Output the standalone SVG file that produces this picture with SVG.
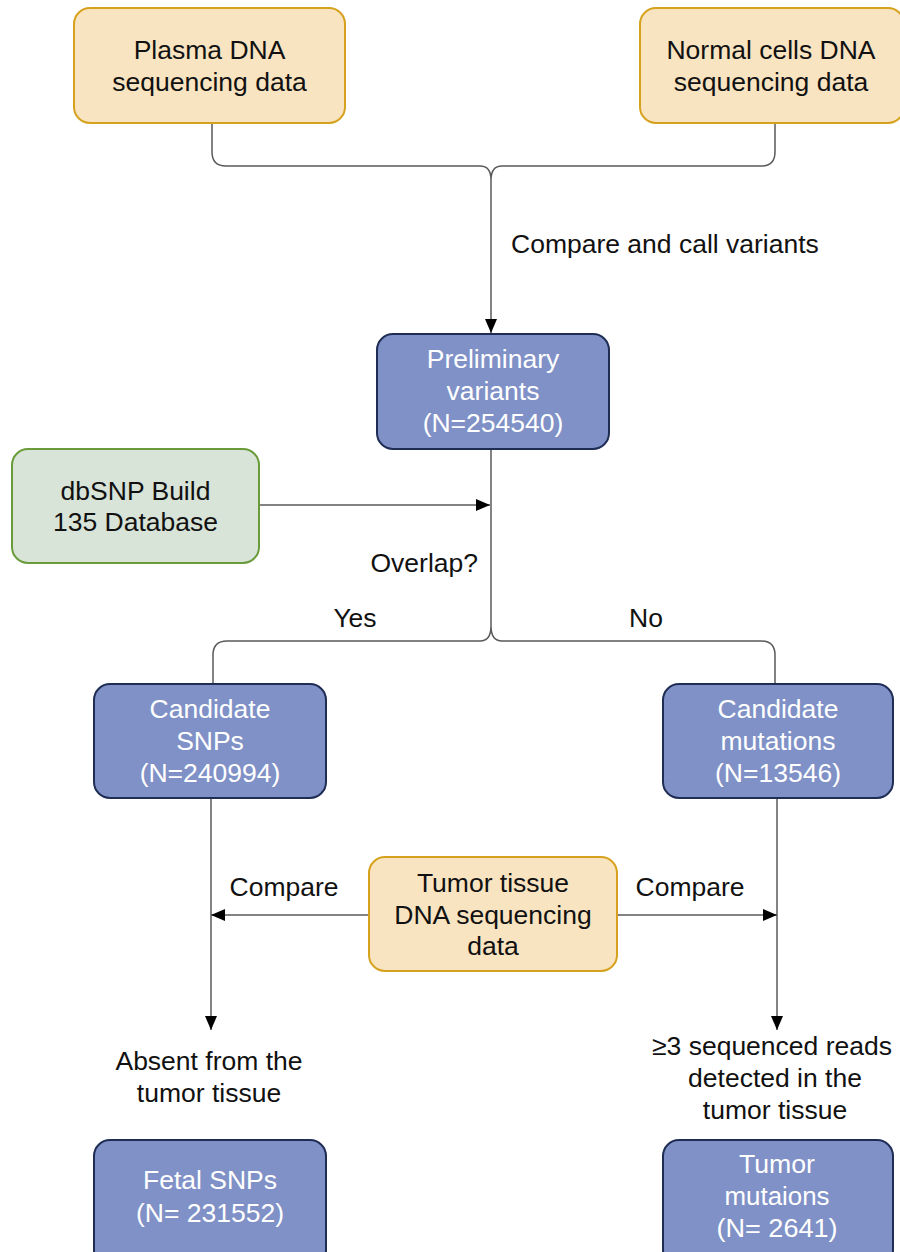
<svg xmlns="http://www.w3.org/2000/svg" width="900" height="1252" viewBox="0 0 900 1252">
<defs>
<style>
text{font-family:"Liberation Sans",Arial,sans-serif;font-size:26.5px;fill:#111;text-anchor:middle}
.wt{fill:#fff}
.org{fill:#f9e4c1;stroke:#d6a21e;stroke-width:2}
.blu{fill:#7f91c6;stroke:#1f2d55;stroke-width:2}
.grn{fill:#d8e4d8;stroke:#6a9b3a;stroke-width:2}
.ln{fill:none;stroke:#5a5a5a;stroke-width:1.5}
</style>
<marker id="ah" markerUnits="userSpaceOnUse" markerWidth="16" markerHeight="14" refX="14" refY="6" orient="auto">
<path d="M0,0 L14,6 L0,12 z" fill="#000"/>
</marker>
</defs>
<rect width="900" height="1252" fill="#fff"/>
<g id="connectors">
<path class="ln" d="M212,124 L212,152 Q212,166 226,166 L480,166 Q491,166 491,180 Q491,166 502,166 L761,166 Q775,166 775,152 L775,124"/>
<path class="ln" d="M491,180 L491,333" marker-end="url(#ah)"/>
<path class="ln" d="M491,449 L491,626"/>
<path class="ln" d="M213,684 L213,655 Q213,641 227,641 L480,641 Q491,641 491,626 Q491,641 502,641 L761,641 Q775,641 775,655 L775,684"/>
<path class="ln" d="M259,505 L490,505" marker-end="url(#ah)"/>
<path class="ln" d="M211,798 L211,1030" marker-end="url(#ah)"/>
<path class="ln" d="M777,798 L777,1030" marker-end="url(#ah)"/>
<path class="ln" d="M369,915 L211,915" marker-end="url(#ah)"/>
<path class="ln" d="M617,915 L777,915" marker-end="url(#ah)"/>
</g>
<g id="labels">
<text x="511" y="253" style="text-anchor:start">Compare and call variants</text>
<text x="478" y="572" style="text-anchor:end">Overlap?</text>
<text x="355" y="627">Yes</text>
<text x="646" y="627">No</text>
<text x="284" y="896">Compare</text>
<text x="690" y="896">Compare</text>
<text x="209" y="1070">Absent from the</text>
<text x="209" y="1102">tumor tissue</text>
<text x="772" y="1055">≥3 sequenced reads</text>
<text x="775" y="1087">detected in the</text>
<text x="775" y="1119">tumor tissue</text>
</g>
<g id="plasma">
<rect class="org" x="74" y="8" width="271" height="115" rx="16"/>
<text x="209.5" y="59">Plasma DNA</text>
<text x="209.5" y="91">sequencing data</text>
</g>
<g id="normal">
<rect class="org" x="640" y="8" width="264" height="115" rx="16"/>
<text x="771" y="59">Normal cells DNA</text>
<text x="771" y="91">sequencing data</text>
</g>
<g id="preliminary">
<rect class="blu" x="377" y="334" width="232" height="115" rx="16"/>
<text class="wt" x="493" y="368">Preliminary</text>
<text class="wt" x="493" y="400">variants</text>
<text class="wt" x="493" y="432">(N=254540)</text>
</g>
<g id="dbsnp">
<rect class="grn" x="12" y="449" width="247" height="114" rx="16"/>
<text x="135.5" y="500">dbSNP Build</text>
<text x="135.5" y="531">135 Database</text>
</g>
<g id="candidate-snps">
<rect class="blu" x="94" y="684" width="232" height="114" rx="16"/>
<text class="wt" x="210" y="718">Candidate</text>
<text class="wt" x="210" y="750">SNPs</text>
<text class="wt" x="210" y="782">(N=240994)</text>
</g>
<g id="candidate-mutations">
<rect class="blu" x="663" y="684" width="230" height="114" rx="16"/>
<text class="wt" x="778" y="718">Candidate</text>
<text class="wt" x="778" y="750">mutations</text>
<text class="wt" x="778" y="782">(N=13546)</text>
</g>
<g id="tumor-tissue">
<rect class="org" x="369" y="857" width="248" height="114" rx="16"/>
<text x="493" y="892">Tumor tissue</text>
<text x="493" y="924">DNA sequencing</text>
<text x="493" y="955">data</text>
</g>
<g id="fetal-snps">
<rect class="blu" x="94" y="1140" width="232" height="126" rx="16"/>
<text class="wt" x="210" y="1189" textLength="134" lengthAdjust="spacingAndGlyphs">Fetal SNPs</text>
<text class="wt" x="210" y="1222" textLength="148" lengthAdjust="spacingAndGlyphs">(N= 231552)</text>
</g>
<g id="tumor-mutations">
<rect class="blu" x="663" y="1140" width="230" height="126" rx="16"/>
<text class="wt" x="777" y="1173" textLength="76" lengthAdjust="spacingAndGlyphs">Tumor</text>
<text class="wt" x="777" y="1205" textLength="105" lengthAdjust="spacingAndGlyphs">mutaions</text>
<text class="wt" x="777" y="1237" textLength="121" lengthAdjust="spacingAndGlyphs">(N= 2641)</text>
</g>
</svg>
